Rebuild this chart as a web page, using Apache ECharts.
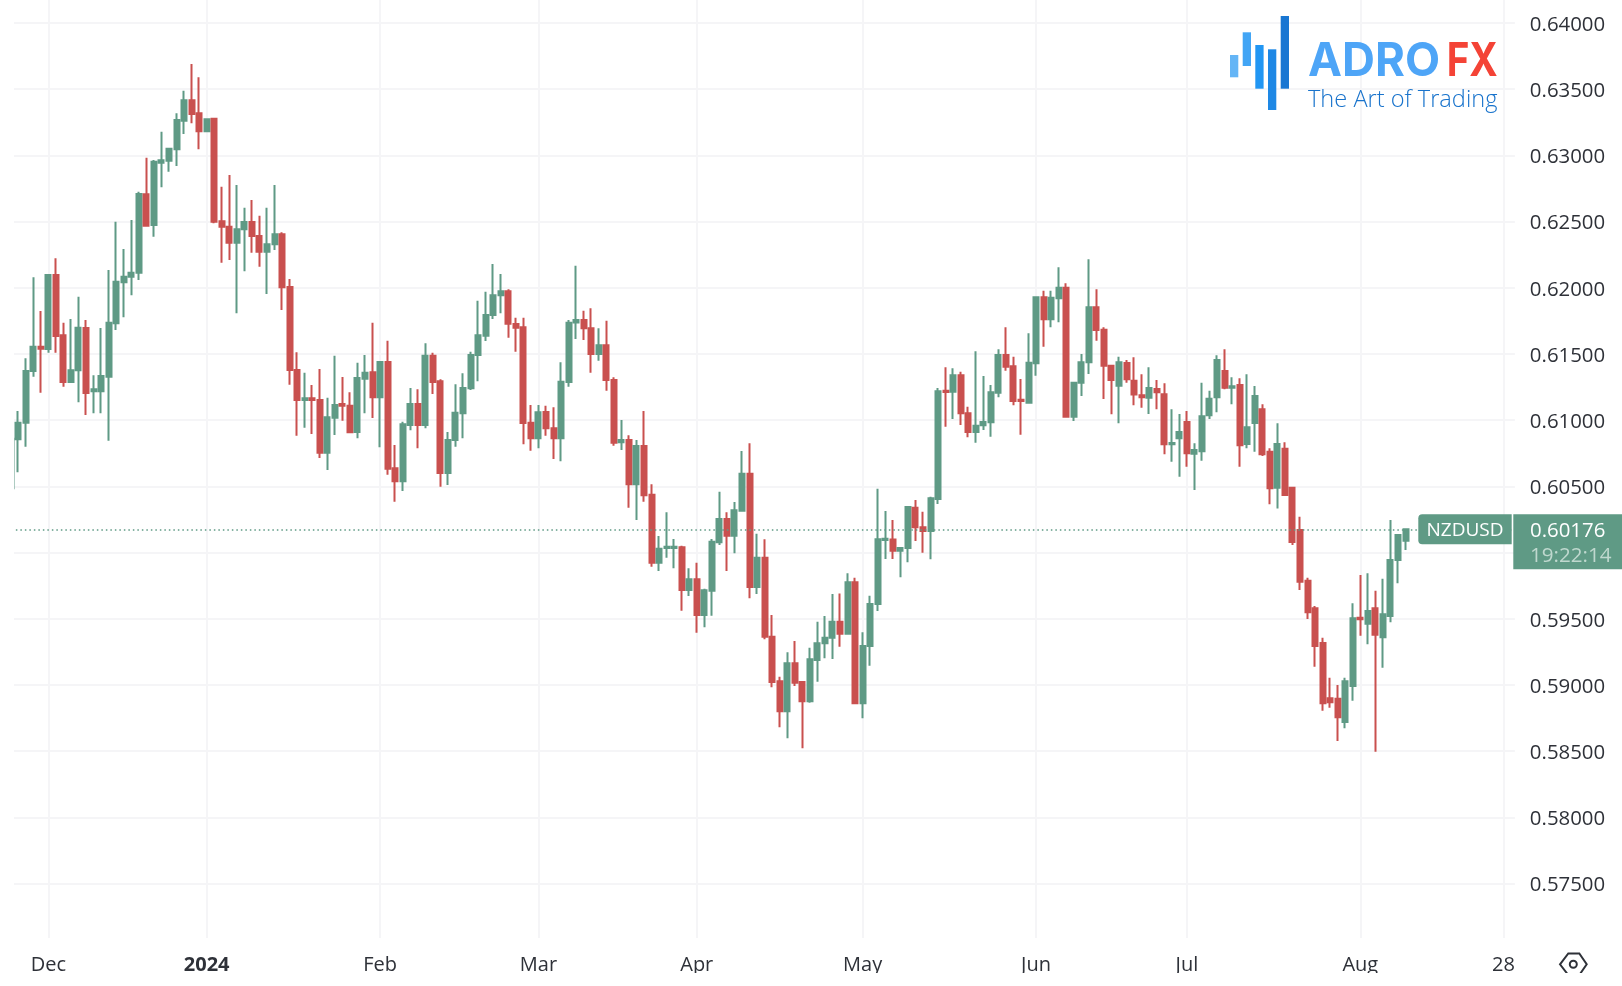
<!DOCTYPE html>
<html>
<head>
<meta charset="utf-8">
<title>NZDUSD</title>
<script src="https://cdn.jsdelivr.net/npm/echarts@6/dist/echarts.min.js"></script>
<style>
html, body { margin: 0; padding: 0; background: #fff; }
#chart { width: 1622px; height: 986px; }
</style>
</head>
<body>
<div id="chart"></div>
<script>
// daily bars, first one is 2023-11-24
const opens = [
    .60486, .60856, .60981, .61372, .61555, .61538, .62097, .61641, .61288, .61377,
    .61696, .61218, .61218, .61329, .61732, .62042, .62084, .62114, .62706, .62474,
    .62945, .62960, .63046, .63262, .63416, .63318, .63182, .63277, .62502, .62461,
    .62341, .62442, .62497, .62391, .62273, .62329, .62404, .62006, .61379, .61152,
    .61165, .61152, .60755, .61019, .61122, .61110, .60911, .61314, .61362, .61173,
    .61440, .60637, .60538, .60964, .61122, .60964, .61487, .61294, .60601, .60850,
    .61052, .61241, .61492, .61638, .61795, .61943, .61974, .61727, .61702, .60981,
    .60863, .61062, .60939, .60863, .61288, .61738, .61757, .61694, .61500, .61566,
    .61304, .60833, .60850, .60516, .60805, .60437, .59924, .60035, .60035, .60040,
    .59717, .59798, .59529, .59712, .60078, .60254, .60128, .60316, .60596, .59740,
    .59961, .59365, .59028, .58801, .59164, .59023, .58877, .59189, .59315, .59357,
    .59478, .59387, .59776, .58862, .59294, .59612, .60095, .60098, .60014, .60035,
    .60339, .60191, .60163, .60405, .61223, .61215, .61339, .61052, .60911, .60961,
    .60984, .61208, .61492, .61407, .61155, .61132, .61430, .61928, .61762, .61921,
    .62001, .61026, .61283, .61437, .61853, .61684, .61412, .61261, .61432, .61298,
    .61188, .61170, .61236, .61196, .60818, .60863, .60986, .60747, .60765, .61037,
    .61173, .61372, .61245, .61266, .60820, .60979, .61082, .60762, .60490, .60785,
    .60490, .60171, .59788, .59579, .59317, .58899, .58896, .58720, .58992, .59508,
    .59463, .59579, .59360, .59522, .59944, .60090
];
const closes = [
    .60860, .60981, .61372, .61555, .61540, .62097, .61636, .61288, .61377, .61699,
    .61205, .61233, .61334, .61736, .62046, .62084, .62114, .62708, .62469, .62952,
    .62963, .63051, .63267, .63416, .63313, .63182, .63273, .62499, .62461, .62341,
    .62442, .62497, .62391, .62273, .62329, .62404, .62004, .61379, .61152, .61165,
    .61152, .60755, .61022, .61115, .61110, .60909, .61319, .61359, .61173, .61440,
    .60634, .60538, .60969, .61122, .60964, .61487, .61288, .60601, .60850, .61057,
    .61243, .61492, .61641, .61795, .61943, .61974, .61729, .61699, .60979, .60863,
    .61060, .60939, .60863, .61291, .61736, .61757, .61694, .61500, .61566, .61304,
    .60830, .60850, .60516, .60805, .60433, .59924, .60029, .60045, .60045, .59717,
    .59798, .59529, .59715, .60082, .60254, .60128, .60319, .60596, .59740, .59961,
    .59365, .59023, .58801, .59164, .59017, .58877, .59194, .59315, .59357, .59478,
    .59387, .59776, .58862, .59294, .59612, .60100, .60105, .60014, .60035, .60344,
    .60191, .60163, .60410, .61218, .61213, .61339, .61052, .60911, .60958, .60986,
    .61211, .61492, .61404, .61145, .61145, .61434, .61928, .61762, .61925, .62001,
    .61026, .61283, .61437, .61853, .61681, .61412, .61304, .61437, .61309, .61194,
    .61173, .61243, .61211, .60818, .60828, .60911, .60750, .60775, .61029, .61162,
    .61455, .61245, .61256, .60810, .60946, .61183, .60742, .60486, .60820, .60435,
    .60080, .59780, .59549, .59294, .58862, .58869, .58756, .59028, .59504, .59496,
    .59559, .59380, .59534, .59944, .60133, .60176
];
const lows = [
    .60470, .60606, .60800, .61329, .61208, .61510, .61510, .61253, .61288, .61135,
    .61039, .61052, .61052, .60845, .61681, .61777, .61943, .62059, .62469, .62386,
    .62759, .62877, .62920, .63162, .63242, .63046, .63182, .62487, .62190, .62210,
    .61807, .62125, .62265, .62159, .61953, .62285, .61832, .61268, .60883, .60943,
    .60896, .60714, .60624, .60888, .60996, .60909, .60863, .61052, .61017, .60795,
    .60588, .60384, .60465, .60924, .60788, .60939, .61198, .60498, .60511, .60800,
    .60863, .61228, .61294, .61598, .61764, .61807, .61623, .61517, .60818, .60770,
    .60788, .60883, .60707, .60690, .61253, .61613, .61606, .61359, .61449, .61223,
    .60807, .60775, .60339, .60246, .60384, .59893, .59861, .59961, .59881, .59561,
    .59672, .59395, .59436, .59523, .60057, .59861, .59995, .60316, .59655, .59687,
    .59345, .58983, .58680, .58597, .58992, .58522, .58866, .59025, .59202, .59196,
    .59289, .59387, .58862, .58748, .59146, .59559, .59952, .59952, .59813, .59927,
    .60088, .59999, .59949, .60367, .60951, .61009, .60964, .60871, .60830, .60926,
    .60875, .61173, .61374, .61112, .60890, .61128, .61336, .61555, .61702, .61739,
    .61026, .60994, .61183, .61349, .61600, .61160, .61045, .60977, .61283, .61113,
    .61094, .61047, .61082, .60742, .60686, .60573, .60649, .60473, .60694, .61009,
    .61060, .61233, .61120, .60649, .60788, .60762, .60730, .60365, .60334, .60435,
    .60057, .59717, .59498, .59138, .58806, .58828, .58577, .58673, .58881, .59372,
    .59307, .58496, .59131, .59473, .59768, .60020
];
const highs = [
    .60875, .61069, .61467, .62079, .61825, .62104, .62223, .61736, .61764, .61933,
    .61757, .61339, .61696, .62134, .62499, .62293, .62512, .62726, .62983, .62965,
    .63179, .63051, .63318, .63489, .63690, .63590, .63273, .63285, .62764, .62852,
    .62776, .62605, .62663, .62545, .62605, .62776, .62419, .62066, .61513, .61359,
    .61266, .61387, .61170, .61487, .61326, .61211, .61434, .61492, .61736, .61440,
    .61600, .60813, .60989, .61243, .61233, .61581, .61510, .61309, .60911, .61271,
    .61354, .61517, .61903, .61971, .62180, .62104, .61989, .61774, .61774, .61115,
    .61115, .61110, .61097, .61437, .61757, .62167, .61827, .61845, .61694, .61752,
    .61324, .61001, .60886, .60850, .61069, .60516, .60125, .60304, .60103, .60052,
    .59881, .59924, .59727, .60103, .60460, .60304, .60382, .60767, .60826, .60143,
    .60100, .59529, .59063, .59247, .59332, .59023, .59282, .59478, .59521, .59687,
    .59692, .59844, .59810, .59398, .59674, .60482, .60314, .60246, .60035, .60344,
    .60397, .60309, .60422, .61243, .61400, .61392, .61366, .61102, .61520, .61334,
    .61266, .61535, .61702, .61480, .61311, .61656, .61928, .61978, .61978, .62155,
    .62034, .61283, .61500, .62215, .61989, .61702, .61412, .61480, .61455, .61475,
    .61347, .61400, .61304, .61279, .61082, .61047, .61069, .60826, .61283, .61223,
    .61490, .61535, .61324, .61316, .61347, .61258, .61120, .60788, .60977, .60833,
    .60498, .60271, .59810, .59597, .59357, .59055, .59000, .59055, .59617, .59831,
    .59844, .59712, .59803, .60246, .60133, .60179
];

const tickDates = ["2023-12-01", "2024-01-01", "2024-02-01", "2024-03-01", "2024-04-01",
    "2024-05-01", "2024-06-03", "2024-07-01", "2024-08-01", "2024-08-28"];
const tickLabels = ["Dec", "2024", "Feb", "Mar", "Apr", "May", "Jun", "Jul", "Aug", "28"];
const lastPrice = 0.60176;
const symbolName = "NZDUSD";
const countdown = "19:22:14";

const upColor = "#5f9a85";
const downColor = "#c9504f";
const gridColor = "#f5f5f7";
const textColor = "#2e3138";
const fontName = "'Open Sans', sans-serif";

// weekdays only, the time scale has no weekend gaps
const categories = [];
const day = new Date(Date.UTC(2023, 10, 24));
while (categories.length < 200) {
    if (day.getUTCDay() !== 0 && day.getUTCDay() !== 6) {
        categories.push(day.toISOString().slice(0, 10));
    }
    day.setUTCDate(day.getUTCDate() + 1);
}

const candles = opens.map((o, i) => [o, closes[i], lows[i], highs[i]]);
const isTick = (index, value) => tickDates.includes(value);

const logoBars = [
    { x: 1230, y: 55, width: 8.3, height: 22.3, fill: "#64b5f6" },
    { x: 1242.7, y: 32.3, width: 8.3, height: 33.7, fill: "#42a5f5" },
    { x: 1255.3, y: 45, width: 8.3, height: 43.7, fill: "#2196f3" },
    { x: 1268, y: 49.3, width: 8.3, height: 60.7, fill: "#1e88e5" },
    { x: 1280.7, y: 16, width: 8.3, height: 72.7, fill: "#1976d2" }
];

const myChart = echarts.init(document.getElementById("chart"));
myChart.setOption({
    animation: false,
    backgroundColor: "#fff",
    // top is above the canvas on purpose: the scale runs on to 0.645 and the picture crops it
    grid: { left: 6.86, top: -43.2, width: 1508, height: 993, outerBoundsMode: "none" },
    xAxis: {
        type: "category",
        data: categories,
        axisLine: { show: false },
        axisTick: { show: false },
        splitLine: {
            show: true,
            alignWithLabel: true,
            interval: isTick,
            lineStyle: { color: gridColor, width: 2 }
        },
        axisLabel: {
            interval: isTick,
            margin: 5,
            hideOverlap: false,
            fontFamily: fontName,
            fontSize: 20,
            color: textColor,
            formatter: (value) => {
                const label = tickLabels[tickDates.indexOf(value)];
                return label === "2024" ? "{bold|" + label + "}" : label;
            },
            rich: { bold: { fontFamily: fontName, fontSize: 20, fontWeight: "bold", color: textColor } }
        }
    },
    yAxis: {
        type: "value",
        position: "right",
        min: 0.57,
        max: 0.645,
        interval: 0.005,
        axisLine: { show: false },
        axisTick: { show: false },
        splitLine: { show: true, showMinLine: false, lineStyle: { color: gridColor, width: 2 } },
        axisLabel: {
            margin: 15,
            showMinLabel: false,
            formatter: (value) => "{price|" + value.toFixed(5) + "}",
            rich: {
                // top padding pushes the text a little below its grid line
                price: { padding: [4, 0, 0, 0], fontFamily: fontName, fontSize: 20.4, color: textColor }
            }
        }
    },
    series: [{
        type: "candlestick",
        data: candles,
        barWidth: 5.5,
        itemStyle: {
            color: upColor,
            color0: downColor,
            borderColor: upColor,
            borderColor0: downColor,
            borderWidth: 2
        },
        markLine: {
            silent: true,
            symbol: "none",
            precision: 5,
            label: { show: false },
            lineStyle: { type: [1.5, 3], color: upColor, width: 1.5 },
            data: [{ yAxis: lastPrice }]
        }
    }],
    graphic: [
        // masks: plot starts at x=14, vertical lines stop above the labels, labels are cut at the bottom
        { type: "rect", z: 50, shape: { x: 0, y: 0, width: 14, height: 950 }, style: { fill: "#fff" } },
        { type: "rect", z: 50, shape: { x: 0, y: 938, width: 1622, height: 14 }, style: { fill: "#fff" } },

        // logo
        ...logoBars.map((b) => ({
            type: "rect", z: 60,
            shape: { x: b.x, y: b.y, width: b.width, height: b.height },
            style: { fill: b.fill }
        })),
        { type: "text", z: 60, x: 1308, y: 62, scaleX: 0.97, style: { text: "ADRO", fill: "#4ea5f7", font: "700 47px Inter, sans-serif", verticalAlign: "middle" } },
        { type: "text", z: 60, x: 1446.7, y: 62, scaleX: 0.82, style: { text: "FX", fill: "#f44336", font: "700 47px Inter, sans-serif", verticalAlign: "middle" } },
        { type: "text", z: 60, x: 1308, y: 100, style: { text: "The Art of Trading", fill: "#1873cc", font: "300 23.6px 'Open Sans', sans-serif", verticalAlign: "middle" } },

        // symbol and last price tags
        { type: "rect", z: 60, shape: { x: 1418.3, y: 514.3, width: 93.4, height: 30, r: [4, 0, 0, 4] }, style: { fill: upColor } },
        { type: "text", z: 61, x: 1465, y: 531, style: { text: symbolName, fill: "#fff", font: "19px " + fontName, align: "center", verticalAlign: "middle" } },
        { type: "rect", z: 60, shape: { x: 1513.3, y: 514.3, width: 108.7, height: 55 }, style: { fill: upColor } },
        { type: "text", z: 61, x: 1530, y: 531.5, style: { text: lastPrice.toFixed(5), fill: "#fff", font: "20.4px " + fontName, verticalAlign: "middle" } },
        { type: "text", z: 61, x: 1530, y: 556, style: { text: countdown, fill: "#bfd8ce", font: "20.6px " + fontName, verticalAlign: "middle" } },

        // settings icon
        {
            type: "polygon", z: 60,
            shape: { points: [[1560, 964.3], [1568.3, 953.5], [1579.3, 953.5], [1586.7, 964.3], [1579.3, 975], [1568.3, 975]] },
            style: { fill: "none", stroke: textColor, lineWidth: 2 }
        },
        { type: "circle", z: 60, shape: { cx: 1573.3, cy: 964.3, r: 3.5 }, style: { fill: "none", stroke: textColor, lineWidth: 2 } },

        { type: "rect", z: 70, shape: { x: 0, y: 973, width: 1622, height: 13 }, style: { fill: "#fff" } }
    ]
});
</script>
</body>
</html>
